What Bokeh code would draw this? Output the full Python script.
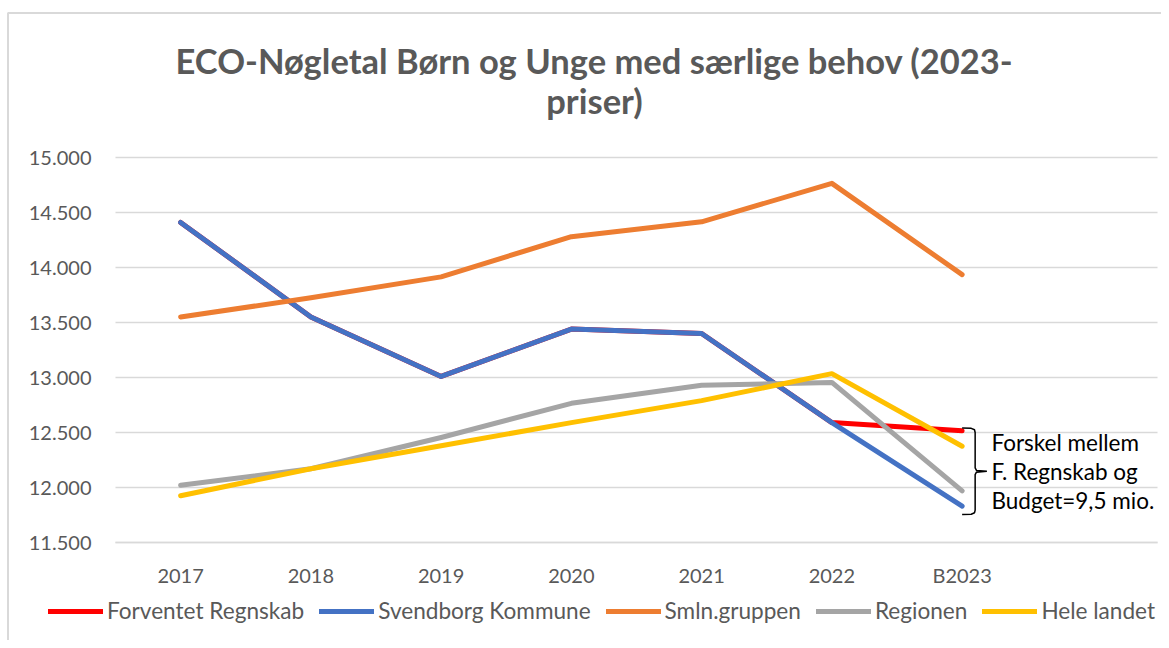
from bokeh.plotting import figure
from bokeh.models import (Range1d, FixedTicker, CustomJSTickFormatter, Legend,
                          LegendItem, Label, ColumnDataSource, LinearAxis)
from bokeh.embed import file_html
from bokeh.resources import INLINE

categories = ["2017", "2018", "2019", "2020", "2021", "2022", "B2023"]
forventet = [14410, 13550, 13010, 13440, 13400, 12590, 12515]
svendborg = [14410, 13550, 13010, 13440, 13400, 12590, 11830]
smln = [13550, 13725, 13915, 14280, 14415, 14765, 13935]
regionen = [12020, 12170, 12455, 12765, 12930, 12955, 11970]
hele = [11925, 12170, 12380, 12590, 12790, 13035, 12375]
y_ticks = [11500, 12000, 12500, 13000, 13500, 14000, 14500, 15000]
title_lines = ["ECO-Nøgletal Børn og Unge med særlige behov (2023-", "priser)"]
note_lines = ["Forskel mellem", "F. Regnskab og", "Budget=9,5 mio."]

series = [
    ("Forventet Regnskab", forventet, "#FF0000"),
    ("Svendborg Kommune", svendborg, "#4472C4"),
    ("Smln.gruppen", smln, "#ED7D31"),
    ("Regionen", regionen, "#A5A5A5"),
    ("Hele landet", hele, "#FFC000"),
]

FONT = "Lato"
GREY = "#595959"
W, H = 1161, 640

# plot-area geometry (pixels) -> data conversions
X0, X1 = -0.5, 7.5                 # 7 years + one empty slot
Y0, Y1 = y_ticks[0], y_ticks[-1]
AREA_L, AREA_R, AREA_T, AREA_B = 115, 1157, 157, 542
sx = (AREA_R - AREA_L) / (X1 - X0)
sy = (AREA_B - AREA_T) / (Y1 - Y0)


def dx(px):
    return X0 + (px - AREA_L) / sx


def dy(py):
    return Y0 + (AREA_B - py) / sy


p = figure(width=W, height=H, output_backend="svg", toolbar_location=None,
           title=None, x_axis_location=None, y_axis_location=None,
           x_range=Range1d(dx(0), dx(W)), y_range=Range1d(dy(H), dy(0)),
           min_border_left=0, min_border_right=0, min_border_top=0,
           min_border_bottom=0)
p.outline_line_color = None
p.background_fill_color = "white"
p.border_fill_color = "white"

# chart border (top + left visible in reference)
p.line([dx(7.5), dx(7.5), dx(W)], [dy(H), dy(12.5), dy(12.5)],
       line_color="#D9D9D9", line_width=2)

# title
for t, py in zip(title_lines, (60, 100)):
    p.add_layout(Label(x=dx(594), y=dy(py), text=t, text_align="center",
                       text_baseline="middle", text_font=FONT,
                       text_font_size="34.5px", text_font_style="bold",
                       text_color=GREY))

# axes placed inside the frame
xaxis = LinearAxis(fixed_location=Y0, bounds=(X0, X1),
                   ticker=FixedTicker(ticks=list(range(len(categories)))),
                   major_label_overrides={i: c for i, c in enumerate(categories)},
                   axis_line_color="#D9D9D9", axis_line_width=1.5,
                   major_tick_line_color=None, minor_tick_line_color=None,
                   major_label_standoff=14, major_label_text_font=FONT,
                   major_label_text_font_size="20px", major_label_text_color=GREY)
p.add_layout(xaxis, "below")

yaxis = LinearAxis(fixed_location=X0, bounds=(Y0, Y1),
                   ticker=FixedTicker(ticks=y_ticks),
                   formatter=CustomJSTickFormatter(code="return (tick/1000).toFixed(3);"),
                   axis_line_color=None, major_tick_line_color=None,
                   minor_tick_line_color=None, major_label_standoff=18,
                   major_label_text_font=FONT, major_label_text_font_size="20px",
                   major_label_text_color=GREY)
p.add_layout(yaxis, "left")

p.xgrid.visible = False
p.ygrid.visible = False
p.segment(x0=[X0] * len(y_ticks), x1=[X1] * len(y_ticks), y0=y_ticks, y1=y_ticks,
          line_color="#D9D9D9", line_width=1.5)

xs = list(range(len(categories)))
items = []
for name, vals, col in series:
    src = ColumnDataSource(dict(x=xs, y=vals))
    r = p.line("x", "y", source=src, line_color=col, line_width=5,
               line_cap="round", line_join="round")
    items.append(LegendItem(label=name, renderers=[r]))

# brace annotation
last = len(categories) - 1
top = forventet[last] + 25
bot = svendborg[last] - 75
mid = (top + bot) / 2
bx = [last + 0.0, last + 0.07, last + 0.095, last + 0.1, last + 0.1, last + 0.11, last + 0.19,
      last + 0.11, last + 0.1, last + 0.1, last + 0.095, last + 0.07, last + 0.0]
by = [top, top - 2, top - 15, top - 40, mid + 30, mid + 8, mid,
      mid - 8, mid - 30, bot + 40, bot + 15, bot + 2, bot]
p.line(bx, by, line_color="black", line_width=1.5)

for i, t in enumerate(note_lines):
    p.add_layout(Label(x=last + 0.225, y=mid + 265 - i * 265, text=t, text_font=FONT,
                       text_font_size="22.5px", text_color="black",
                       text_baseline="middle", text_align="left"))

legend = Legend(items=items, orientation="horizontal", location=(48, 16),
                padding=0, margin=0, spacing=15, label_standoff=4,
                glyph_width=55, glyph_height=20,
                label_text_font=FONT, label_text_font_size="22.6px",
                label_text_color=GREY, border_line_color=None,
                background_fill_alpha=0)
p.add_layout(legend, "center")

open("out.html", "w").write(file_html(p, INLINE))
